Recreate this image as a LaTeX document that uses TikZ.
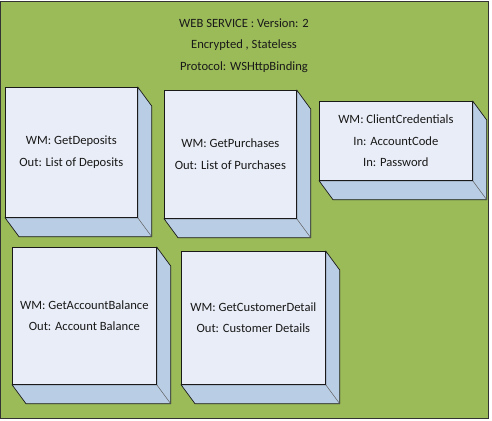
\documentclass[tikz,border=0pt]{standalone}
\usepackage{fontspec}
\setmainfont{Carlito}
\usetikzlibrary{calc}
\definecolor{bgreen}{HTML}{9BBB59}
\definecolor{facec}{HTML}{E9EDF7}
\definecolor{sidec}{HTML}{B9CDE5}
\definecolor{edgec}{HTML}{1A1A1A}
\newcommand\extrudebox[1]{%
  \filldraw[sideface] (#1.north east) -- ($(#1.north east)+(14,19)$) -- ($(#1.south east)+(14,19)$) -- ($(#1.south west)+(14,19)$) -- (#1.south west) -- (#1.south east) -- cycle;
  \draw[diag] (#1.south east) -- ($(#1.south east)+(14,19)$);
  \draw[edge] (#1.north west) rectangle (#1.south east);
}
\begin{document}
\begin{tikzpicture}[x=1pt,y=-1pt,
  facebox/.style={draw=edgec, line width=0.7pt, fill=facec, inner sep=0pt, align=center,
    font=\fontsize{12.6}{21.5}\selectfont, anchor=north west, text=black!90},
  sideface/.style={draw=edgec, line width=0.7pt, fill=sidec, line join=round},
  diag/.style={draw=edgec!70, line width=0.5pt},
  edge/.style={draw=edgec, line width=0.7pt},
  titletext/.style={align=center, font=\fontsize{12.6}{21.5}\selectfont, text=black!90, inner sep=0pt}]
\useasboundingbox (0,0) rectangle (492,420);
\fill[white] (0,0) rectangle (492,420);
\filldraw[fill=bgreen, draw=black!80, line width=0.8pt] (0,1) rectangle (488,418);
\node[titletext] (title) at (244,45.5) {WEB SERVICE : Version: 2\\Encrypted , Stateless\\Protocol: WSHttpBinding};
\node[facebox, minimum width=132pt, minimum height=130pt] (dep) at (5,87) {WM: GetDeposits\\Out: List of Deposits};
\node[facebox, minimum width=132pt, minimum height=128pt] (pur) at (164,90) {WM: GetPurchases\\Out: List of Purchases};
\node[facebox, minimum width=153pt, minimum height=79pt] (cred) at (319,101) {WM: ClientCredentials\\In: AccountCode\\In: Password};
\node[facebox, minimum width=144pt, minimum height=137pt] (bal) at (12,247) {WM: GetAccountBalance\\Out: Account Balance};
\node[facebox, minimum width=144pt, minimum height=133pt] (cust) at (181,251) {WM: GetCustomerDetail\\Out: Customer Details};
\extrudebox{dep}
\extrudebox{pur}
\extrudebox{cred}
\extrudebox{bal}
\extrudebox{cust}
\end{tikzpicture}
\end{document}
